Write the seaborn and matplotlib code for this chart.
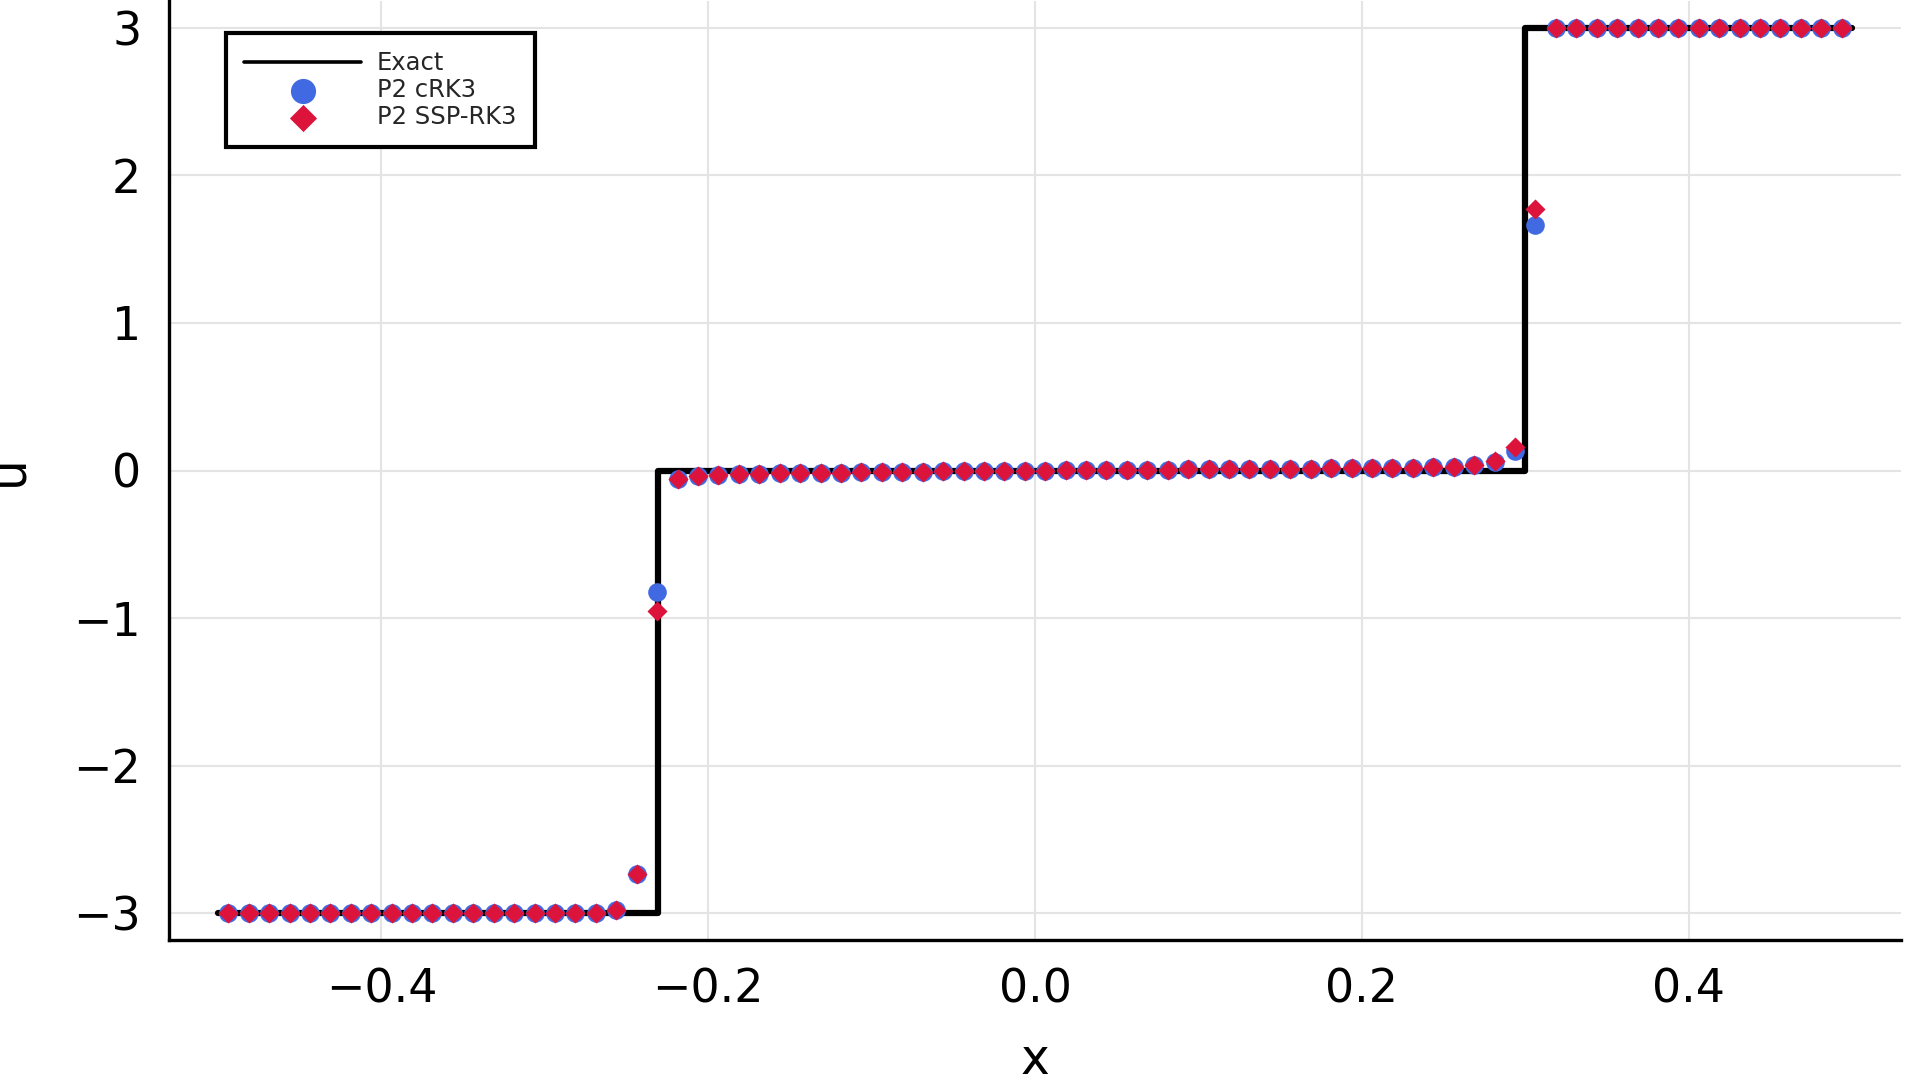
import numpy as np
import pandas as pd
import matplotlib
matplotlib.use("Agg")
import matplotlib.pyplot as plt
import seaborn as sns

# ---------------- data ----------------
exact_x = [-0.5, -0.231, -0.231, 0.3, 0.3, 0.5]
exact_u = [-3.0, -3.0, 0.0, 0.0, 3.0, 3.0]

# cell centres (80 cells on [-0.5, 0.5])
x_cells = [-0.49375, -0.48125, -0.46875, -0.45625, -0.44375, -0.43125, -0.41875, -0.40625,
           -0.39375, -0.38125, -0.36875, -0.35625, -0.34375, -0.33125, -0.31875, -0.30625,
           -0.29375, -0.28125, -0.26875, -0.25625, -0.24375, -0.23125, -0.21875, -0.20625,
           -0.19375, -0.18125, -0.16875, -0.15625, -0.14375, -0.13125, -0.11875, -0.10625,
           -0.09375, -0.08125, -0.06875, -0.05625, -0.04375, -0.03125, -0.01875, -0.00625,
           0.00625, 0.01875, 0.03125, 0.04375, 0.05625, 0.06875, 0.08125, 0.09375,
           0.10625, 0.11875, 0.13125, 0.14375, 0.15625, 0.16875, 0.18125, 0.19375,
           0.20625, 0.21875, 0.23125, 0.24375, 0.25625, 0.26875, 0.28125, 0.29375,
           0.30625, 0.31875, 0.33125, 0.34375, 0.35625, 0.36875, 0.38125, 0.39375,
           0.40625, 0.41875, 0.43125, 0.44375, 0.45625, 0.46875, 0.48125, 0.49375]

u_crk3 = [-3.0, -3.0, -3.0, -3.0, -3.0, -3.0, -3.0, -3.0,
          -3.0, -3.0, -3.0, -3.0, -3.0, -3.0, -3.0, -3.0,
          -3.0, -3.0, -3.0, -2.98, -2.73, -0.82, -0.06, -0.04,
          -0.03, -0.025, -0.022, -0.02, -0.018, -0.016, -0.014, -0.012,
          -0.01, -0.009, -0.007, -0.006, -0.004, -0.003, -0.002, -0.001,
          0.0, 0.001, 0.002, 0.003, 0.004, 0.005, 0.006, 0.007,
          0.008, 0.009, 0.010, 0.011, 0.012, 0.013, 0.014, 0.015,
          0.016, 0.018, 0.020, 0.022, 0.027, 0.035, 0.06, 0.13,
          1.66, 3.0, 3.0, 3.0, 3.0, 3.0, 3.0, 3.0,
          3.0, 3.0, 3.0, 3.0, 3.0, 3.0, 3.0, 3.0]

u_ssp = [-3.0, -3.0, -3.0, -3.0, -3.0, -3.0, -3.0, -3.0,
         -3.0, -3.0, -3.0, -3.0, -3.0, -3.0, -3.0, -3.0,
         -3.0, -3.0, -3.0, -2.98, -2.73, -0.95, -0.06, -0.04,
         -0.03, -0.025, -0.022, -0.02, -0.018, -0.016, -0.014, -0.012,
         -0.01, -0.009, -0.007, -0.006, -0.004, -0.003, -0.002, -0.001,
         0.0, 0.001, 0.002, 0.003, 0.004, 0.005, 0.006, 0.007,
         0.008, 0.009, 0.010, 0.011, 0.012, 0.013, 0.014, 0.015,
         0.016, 0.018, 0.020, 0.022, 0.027, 0.035, 0.065, 0.16,
         1.77, 3.0, 3.0, 3.0, 3.0, 3.0, 3.0, 3.0,
         3.0, 3.0, 3.0, 3.0, 3.0, 3.0, 3.0, 3.0]

x_ticks = [-0.4, -0.2, 0.0, 0.2, 0.4]
x_ticklabels = ["\u22120.4", "\u22120.2", "0.0", "0.2", "0.4"]
y_ticks = [-3, -2, -1, 0, 1, 2, 3]
y_ticklabels = ["\u22123", "\u22122", "\u22121", "0", "1", "2", "3"]

# ---------------- plot ----------------
sns.set_theme(style="white")
plt.rcParams['font.family'] = ['DejaVu Sans']

fig = plt.figure(figsize=(19.05, 10.76), dpi=100)
ax = fig.add_axes([169/1905, 1 - 940/1076, (1901-169)/1905, (940-1)/1076])

df_exact = pd.DataFrame({"x": exact_x, "u": exact_u})
df_c = pd.DataFrame({"x": x_cells, "u": u_crk3})
df_s = pd.DataFrame({"x": x_cells, "u": u_ssp})

sns.lineplot(data=df_exact, x="x", y="u", sort=False, estimator=None, ax=ax,
             color="black", linewidth=4.5, label="Exact", zorder=2)
sns.scatterplot(data=df_c, x="x", y="u", ax=ax, color="#4169E1", marker="o",
                s=180, linewidth=0, label="P2 cRK3", zorder=3)
sns.scatterplot(data=df_s, x="x", y="u", ax=ax, color="#DC143C", marker="D",
                s=105, linewidth=0, label="P2 SSP-RK3", zorder=4)

ax.set_xlim(-0.53, 0.53)
ax.set_ylim(-3.18, 3.18)
ax.set_xticks(x_ticks)
ax.set_xticklabels(x_ticklabels)
ax.set_yticks(y_ticks)
ax.set_yticklabels(y_ticklabels)

ax.grid(True, color="#e4e4e4", linewidth=1.5)
ax.set_axisbelow(True)
for side in ["top", "right"]:
    ax.spines[side].set_visible(False)
for side in ["left", "bottom"]:
    ax.spines[side].set_color("black")
    ax.spines[side].set_linewidth(2.4)

ax.tick_params(axis="both", direction="in", length=15, width=2.2, color="black",
               labelsize=33, pad=20, labelcolor="black")

ax.set_xlabel("x", fontsize=35, color="black", va="baseline")
ax.set_ylabel("u", fontsize=35, color="black")
ax.xaxis.set_label_coords(0.5, (940-1074)/939)
ax.yaxis.set_label_coords((32-169)/1732, 0.5)

leg = ax.legend(loc="upper left", bbox_to_anchor=((226-169)/1732, (940-33)/939),
                borderaxespad=0, fontsize=17.5, frameon=True, fancybox=False,
                edgecolor="black", framealpha=1, handlelength=4.8, handletextpad=0.66,
                labelspacing=0.12, borderpad=0.75, markerscale=1.35)
leg.get_frame().set_linewidth(3)
for ln in leg.get_lines():
    ln.set_linewidth(2.6)

fig.savefig("out.png", dpi=100, facecolor="white")
